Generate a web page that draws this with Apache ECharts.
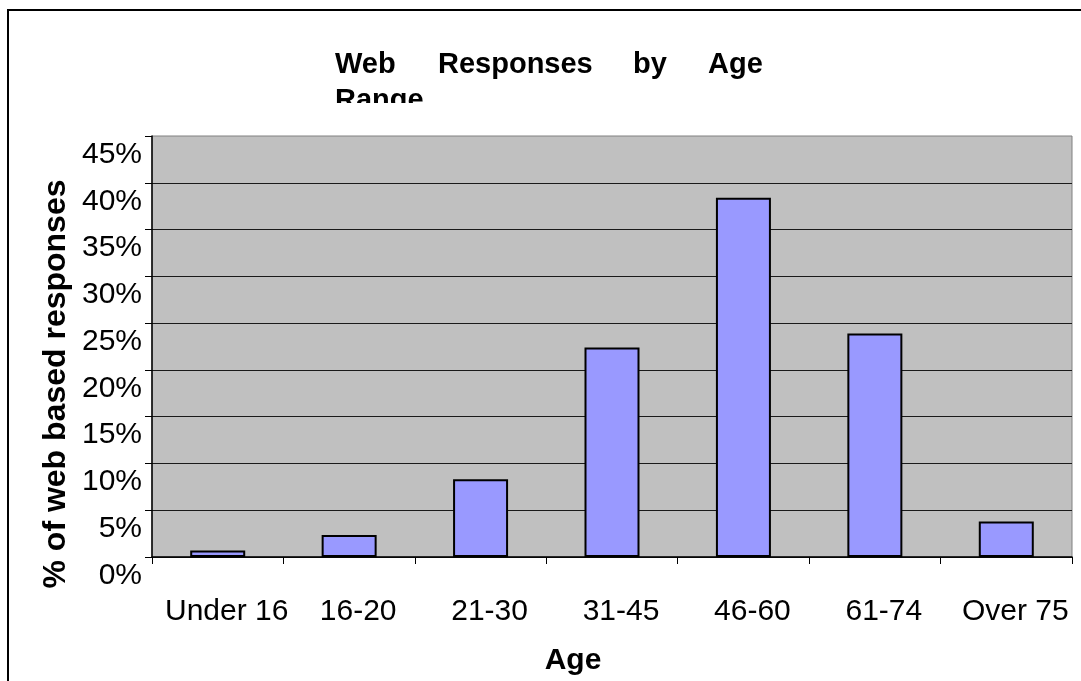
<!DOCTYPE html>
<html>
<head>
<meta charset="utf-8">
<script src="https://cdn.jsdelivr.net/npm/echarts@6/dist/echarts.min.js"></script>
<style>
  html, body { margin: 0; padding: 0; background: #ffffff; }
  #chart { width: 1081px; height: 681px; }
</style>
</head>
<body>
<div id="chart"></div>
<script>
// Age bands and share of web-based responses (%)
const categories = ['Under 16', '16-20', '21-30', '31-45', '46-60', '61-74', 'Over 75'];
const responseShare = [0.7, 2.35, 8.3, 22.4, 38.4, 23.9, 3.8];
const yTicks = { min: 0, max: 45, step: 5 };
const titleLine1 = ['Web', 'Responses', 'by', 'Age'];
const titleLine2 = 'Range';
const xAxisTitle = 'Age';
const yAxisTitle = '% of web based responses';

const FONT = '"Liberation Sans", Arial, Helvetica, sans-serif';

const chart = echarts.init(document.getElementById('chart'), null, { renderer: 'canvas' });

// Justified title words, spread across the title box
const titleX = [335, 438, 633, 708];

const option = {
  animation: false,
  backgroundColor: '#ffffff',
  grid: {
    left: 152, top: 136, right: 9, bottom: 124,
    show: true, backgroundColor: '#c0c0c0', borderColor: '#808080', borderWidth: 1,
    containLabel: false
  },
  xAxis: {
    type: 'category',
    data: categories,
    boundaryGap: true,
    axisLine: { show: true, lineStyle: { color: '#000', width: 1.5 } },
    axisTick: { show: true, length: 7, inside: false, lineStyle: { color: '#000', width: 1 } },
    axisLabel: {
      margin: 40, color: '#000', fontFamily: FONT, fontSize: 30,
      padding: [0, 0, 0, 18], interval: 0
    },
    splitLine: { show: false }
  },
  yAxis: {
    type: 'value',
    min: yTicks.min, max: yTicks.max, interval: yTicks.step,
    axisLine: { show: true, lineStyle: { color: '#000', width: 1.5 } },
    axisTick: { show: true, length: 7, inside: false, lineStyle: { color: '#000', width: 1 } },
    axisLabel: {
      formatter: v => '{v|' + v + '%}',
      margin: 10, color: '#000', fontFamily: FONT, fontSize: 30,
      verticalAlign: 'top',
      rich: { v: { fontFamily: FONT, fontSize: 30, color: '#000', lineHeight: 37 } }
    },
    splitLine: { show: true, showMaxLine: false, lineStyle: { color: '#1a1a1a', width: 1.2 } }
  },
  series: [{
    type: 'bar',
    data: responseShare,
    barWidth: 55,
    itemStyle: { color: '#9999ff', borderColor: '#000', borderWidth: 2 }
  }],
  graphic: [
    // outer chart frame
    { type: 'rect', z: 0, shape: { x: 8, y: 10, width: 1100, height: 700 },
      style: { fill: 'none', stroke: '#000', lineWidth: 2 } },
    // title, first line
    ...titleLine1.map((w, i) => ({
      type: 'text', z: 10, x: titleX[i], y: 65,
      style: { text: w, font: 'bold 29px ' + FONT, fill: '#000', align: 'left', verticalAlign: 'middle' }
    })),
    // title, second line (only its top part is visible)
    { type: 'text', z: 10, x: 335, y: 100.5,
      style: { text: titleLine2, font: 'bold 29px ' + FONT, fill: '#000', align: 'left', verticalAlign: 'middle' } },
    { type: 'rect', z: 20, shape: { x: 320, y: 103, width: 140, height: 31 },
      style: { fill: '#ffffff', stroke: 'none' } },
    // axis titles
    { type: 'text', z: 10, x: 573, y: 661,
      style: { text: xAxisTitle, font: 'bold 30px ' + FONT, fill: '#000', align: 'center', verticalAlign: 'middle' } },
    { type: 'text', z: 10, x: 56, y: 384, rotation: Math.PI / 2,
      style: { text: yAxisTitle, font: 'bold 32px ' + FONT, fill: '#000', align: 'center', verticalAlign: 'middle' } }
  ]
};

chart.setOption(option);
</script>
</body>
</html>
